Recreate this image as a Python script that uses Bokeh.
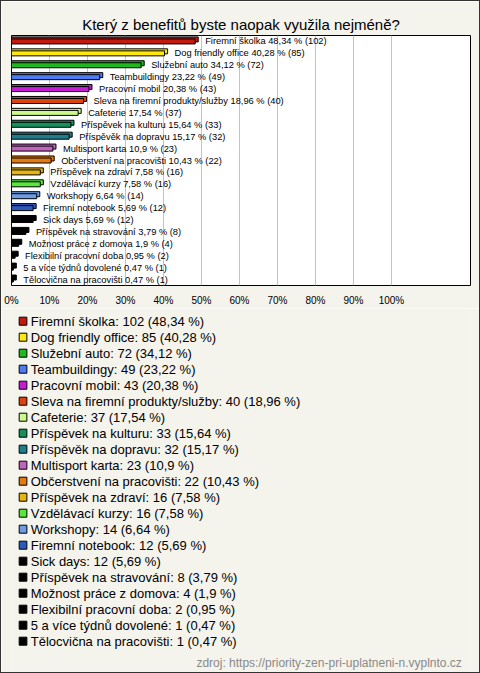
from bokeh.plotting import figure
from bokeh.layouts import column
from bokeh.models import (ColumnDataSource, Range1d, FixedTicker, PrintfTickFormatter)
from bokeh.transform import dodge
from bokeh.core.properties import value
from bokeh.embed import file_html
from bokeh.resources import INLINE

# ---------------- data ----------------
names = [
    "Firemní školka", "Dog friendly office", "Služební auto", "Teambuildingy",
    "Pracovní mobil", "Sleva na firemní produkty/služby", "Cafeterie",
    "Příspěvek na kulturu", "Příspěvěk na dopravu", "Multisport karta",
    "Občerstvení na pracovišti", "Příspěvek na zdraví", "Vzdělávací kurzy",
    "Workshopy", "Firemní notebook", "Sick days", "Příspěvek na stravování",
    "Možnost práce z domova", "Flexibilní pracovní doba",
    "5 a více týdnů dovolené", "Tělocvična na pracovišti",
]
counts = [102, 85, 72, 49, 43, 40, 37, 33, 32, 23, 22, 16, 16, 14, 12, 12, 8, 4, 2, 1, 1]
percents = [48.34, 40.28, 34.12, 23.22, 20.38, 18.96, 17.54, 15.64, 15.17, 10.9,
            10.43, 7.58, 7.58, 6.64, 5.69, 5.69, 3.79, 1.9, 0.95, 0.47, 0.47]
colors = [
    "#C41A0E", "#FFE810", "#1FB81F", "#4F7BF2", "#C41CD4", "#E0420F", "#CCFA8A",
    "#14905C", "#1E7E8C", "#C064C0", "#E57A10", "#E8B410", "#58E83A", "#6E9CE2",
    "#2E58BA", "#000000", "#000000", "#000000", "#000000", "#000000", "#000000",
]
tick_values = [0, 10, 20, 30, 40, 50, 60, 70, 80, 90, 100]
title_text = "Který z benefitů byste naopak využila nejméně?"
source_text = "zdroj: https://priority-zen-pri-uplatneni-n.vyplnto.cz"

# ---------------- styling constants ----------------
FONT = "Liberation Sans"
BG = "#F4F3EC"
DEPTH = 0.8          # 3D depth of bars, in % units
BAR_H = 0.42
SHIFT = 0.17
W = 478              # inner width (1px border on each side)
H1 = 307             # chart part
H2 = 671 - H1        # legend part
LEG_Y0 = 12.7        # legend first row centre (px in legend panel)
LEG_STEP = 16        # legend row pitch (px)


def fmt(v):
    return f"{v:g}".replace(".", ",")


bar_labels = [f"{n} {fmt(p)} % ({c})" for n, p, c in zip(names, percents, counts)]
legend_labels = [f"{n}: {c} ({fmt(p)} %)" for n, p, c in zip(names, percents, counts)]

src = ColumnDataSource(dict(
    y=list(range(len(names))),
    pct=percents,
    back=[p + DEPTH for p in percents],
    color=colors,
    label=bar_labels,
))

# ---------------- chart ----------------
p = figure(width=W, height=H1,
           x_range=Range1d(0, 120.8), y_range=Range1d(len(names) - 0.5, -0.5),
           output_backend="svg", toolbar_location=None, y_axis_location=None,
           min_border_left=10, min_border_right=9, min_border_top=34,
           min_border_bottom=22)

p.border_fill_color = BG
p.background_fill_color = "white"
p.outline_line_color = "black"
p.outline_line_width = 1

p.title.text = title_text
p.title.align = "center"
p.title.text_font = FONT
p.title.text_font_size = "15px"
p.title.text_font_style = "normal"
p.title.text_color = "black"
p.title.standoff = 6

# bars (3D look: back face offset up/right, then front face)
p.hbar(y=dodge("y", -SHIFT, range=p.y_range), left=0, right="back", height=BAR_H,
       fill_color="color", line_color="black", line_width=1, source=src)
p.hbar(y="y", left=0, right="pct", height=BAR_H,
       fill_color="color", line_color="black", line_width=1, source=src)

p.text(x="pct", y="y", text="label", x_offset=10, text_baseline="middle",
       text_align="left", text_font=value(FONT), text_font_size="9.3px",
       text_color="black", source=src)

ticker = FixedTicker(ticks=tick_values)
p.xaxis.ticker = ticker
p.xaxis.formatter = PrintfTickFormatter(format="%d%%")
p.xaxis.axis_line_color = None
p.xaxis.major_tick_line_color = None
p.xaxis.minor_tick_line_color = None
p.xaxis.major_tick_out = 0
p.xaxis.major_tick_in = 0
p.xaxis.major_label_standoff = 9
p.xaxis.major_label_text_font = FONT
p.xaxis.major_label_text_font_size = "10px"
p.xaxis.major_label_text_color = "black"
p.xgrid.ticker = ticker
p.xgrid.grid_line_color = "#C4C4C4"
p.ygrid.visible = False

# ---------------- legend panel ----------------
leg_src = ColumnDataSource(dict(
    ly=[LEG_Y0 + LEG_STEP * i for i in range(len(names))],
    color=colors,
    label=legend_labels,
))

p2 = figure(width=W, height=H2, x_range=Range1d(0, W), y_range=Range1d(H2, 0),
            output_backend="svg", toolbar_location=None,
            x_axis_location=None, y_axis_location=None,
            min_border_left=0, min_border_right=0, min_border_top=0,
            min_border_bottom=0)
p2.border_fill_color = BG
p2.background_fill_color = BG
p2.outline_line_color = None
p2.xgrid.visible = False
p2.ygrid.visible = False

p2.rect(x=12, y="ly", width=8, height=8, fill_color="color", line_color="black",
        line_width=1, source=leg_src)
p2.text(x=20, y="ly", text="label", text_baseline="middle", text_align="left",
        text_font=value(FONT), text_font_size="13px", text_color="black",
        source=leg_src)
p2.text(x=[469], y=[354], text=[source_text], text_baseline="middle",
        text_align="right", text_font=value(FONT), text_font_size="12px",
        text_color="#8A8A8A")

layout = column(p, p2, spacing=0,
                styles={"border": "1px solid #333333"})

open("out.html", "w").write(file_html(layout, INLINE))
